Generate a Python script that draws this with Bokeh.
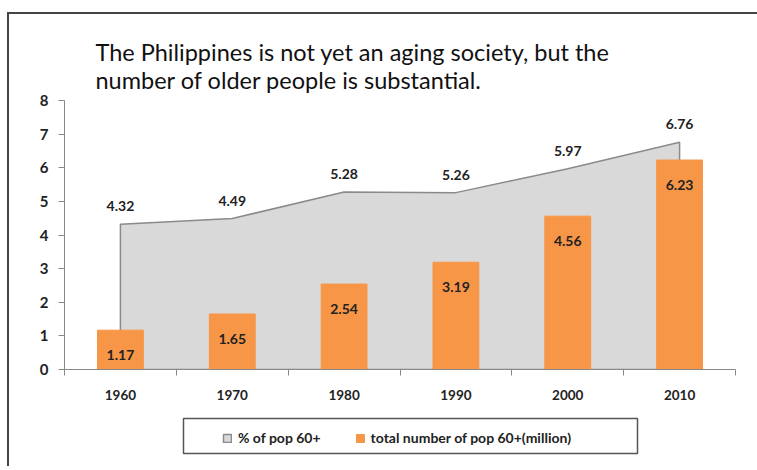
from bokeh.plotting import figure
from bokeh.layouts import column
from bokeh.models import (ColumnDataSource, FixedTicker, LinearAxis, Legend, LegendItem,
                          Title, Range1d, LabelSet)
from bokeh.core.properties import value
from bokeh.embed import file_html
from bokeh.resources import INLINE

years = ["1960", "1970", "1980", "1990", "2000", "2010"]
pct_pop_60 = [4.32, 4.49, 5.28, 5.26, 5.97, 6.76]
total_pop_60 = [1.17, 1.65, 2.54, 3.19, 4.56, 6.23]
y_ticks = [0, 1, 2, 3, 4, 5, 6, 7, 8]

FONT = "Lato"
AREA_STYLE = dict(fill_color="#d9d9d9", line_color="#8a8a8a", line_width=1.5)
BAR_STYLE = dict(fill_color="#f79646", line_color="#f79646")
xs = [i + 0.5 for i in range(len(years))]

W, BL, BR = 748, 55, 22   # figure width and side borders shared by both panels

p = figure(width=W, height=396,
           output_backend="svg", toolbar_location=None,
           x_range=Range1d(0, len(years)), y_range=Range1d(0, 8),
           x_axis_type=None, y_axis_type=None,
           min_border_left=BL, min_border_right=BR, min_border_top=86, min_border_bottom=41)
p.outline_line_color = None
p.grid.visible = False
p.background_fill_color = "white"
p.border_fill_color = "white"

# shaded area for share of population aged 60+
area_x = [xs[0]] + xs + [xs[-1]]
area_y = [0] + pct_pop_60 + [0]
p.patch(area_x, area_y, **AREA_STYLE)

# bars for the number of people aged 60+
src = ColumnDataSource(dict(x=xs, total=total_pop_60, pct=pct_pop_60,
                            total_lbl=[f"{v:.2f}" for v in total_pop_60],
                            pct_lbl=[f"{v:.2f}" for v in pct_pop_60]))
p.vbar(x="x", top="total", width=0.41, source=src, **BAR_STYLE)

p.add_layout(LabelSet(x="x", y="pct", text="pct_lbl", source=src, y_offset=18,
                      text_align="center", text_baseline="middle",
                      text_font=value(FONT), text_font_style="bold", text_font_size="14px",
                      text_color="#222222"))
p.add_layout(LabelSet(x="x", y="total", text="total_lbl", source=src, y_offset=-25,
                      text_align="center", text_baseline="middle",
                      text_font=value(FONT), text_font_style="bold", text_font_size="14px",
                      text_color="#222222"))

# y axis
yax = LinearAxis(ticker=FixedTicker(ticks=y_ticks))
yax.axis_line_color = "#888888"
yax.major_tick_line_color = "#888888"
yax.major_tick_out = 6
yax.major_tick_in = 0
yax.minor_tick_line_color = None
yax.major_label_text_font = FONT
yax.major_label_text_font_style = "bold"
yax.major_label_text_font_size = "15px"
yax.major_label_text_color = "#222222"
yax.major_label_standoff = 10
p.add_layout(yax, "left")

# x axis: tick marks between the categories
xax = LinearAxis(ticker=FixedTicker(ticks=list(range(len(years) + 1))))
xax.axis_line_color = "#888888"
xax.major_tick_line_color = "#888888"
xax.major_tick_out = 6
xax.major_tick_in = 0
xax.minor_tick_line_color = None
xax.major_label_text_alpha = 0
xax.major_label_text_font_size = "1px"
xax.major_label_standoff = 0
p.add_layout(xax, "below")

# x axis: year labels under each category
xlab = LinearAxis(ticker=FixedTicker(ticks=xs),
                  major_label_overrides={x: y for x, y in zip(xs, years)})
xlab.axis_line_color = None
xlab.major_tick_line_color = None
xlab.minor_tick_line_color = None
xlab.major_label_text_font = FONT
xlab.major_label_text_font_style = "bold"
xlab.major_label_text_font_size = "13.5px"
xlab.major_label_text_color = "#222222"
xlab.major_label_standoff = 8
p.add_layout(xlab, "below")

title = Title(text="The Philippines is not yet an aging society, but the\nnumber of older people is substantial.",
              align="left", offset=31, text_font=FONT, text_font_style="normal",
              text_font_size="23.5px", text_color="#111111", text_line_height=1.0,
              standoff=14)
p.add_layout(title, "above")

# legend strip under the chart; its frame lines up with the chart frame,
# so x runs in pixels from the chart's left edge
FW = W - BL - BR
lg = figure(width=W, height=56, output_backend="svg", toolbar_location=None,
            x_range=Range1d(0, FW), y_range=Range1d(0, 56),
            x_axis_type=None, y_axis_type=None,
            min_border_left=BL, min_border_right=BR, min_border_top=0, min_border_bottom=0)
lg.outline_line_color = None
lg.grid.visible = False
lg.border_fill_color = "white"
lg.background_fill_color = "white"
# key renderers sit outside the visible range; only their legend swatches show
area_key = lg.patch([-50, -40, -40], [-50, -50, -40], **AREA_STYLE)
bar_key = lg.vbar(x=[-50], top=[-40], bottom=-50, width=1, **BAR_STYLE)
# legend frame
lg.quad(left=[119], right=[573], bottom=[13], top=[48],
        fill_alpha=0, line_color="#555555", line_width=1.5)
legend = Legend(items=[LegendItem(label="% of pop 60+", renderers=[area_key]),
                       LegendItem(label="total number of pop 60+(million)", renderers=[bar_key])],
                orientation="horizontal", location=(158, 20),
                border_line_color=None, background_fill_alpha=0,
                label_text_font=FONT, label_text_font_style="bold",
                label_text_font_size="14px", label_text_color="#222222",
                glyph_width=10, glyph_height=10, label_standoff=6, spacing=34,
                padding=8)
lg.add_layout(legend, "center")

layout = column(p, lg, spacing=0, margin=(12, 0, 0, 7),
                styles={"border-left": "2px solid #444444", "border-top": "2px solid #444444"})

open("out.html", "w").write(file_html(layout, INLINE))
